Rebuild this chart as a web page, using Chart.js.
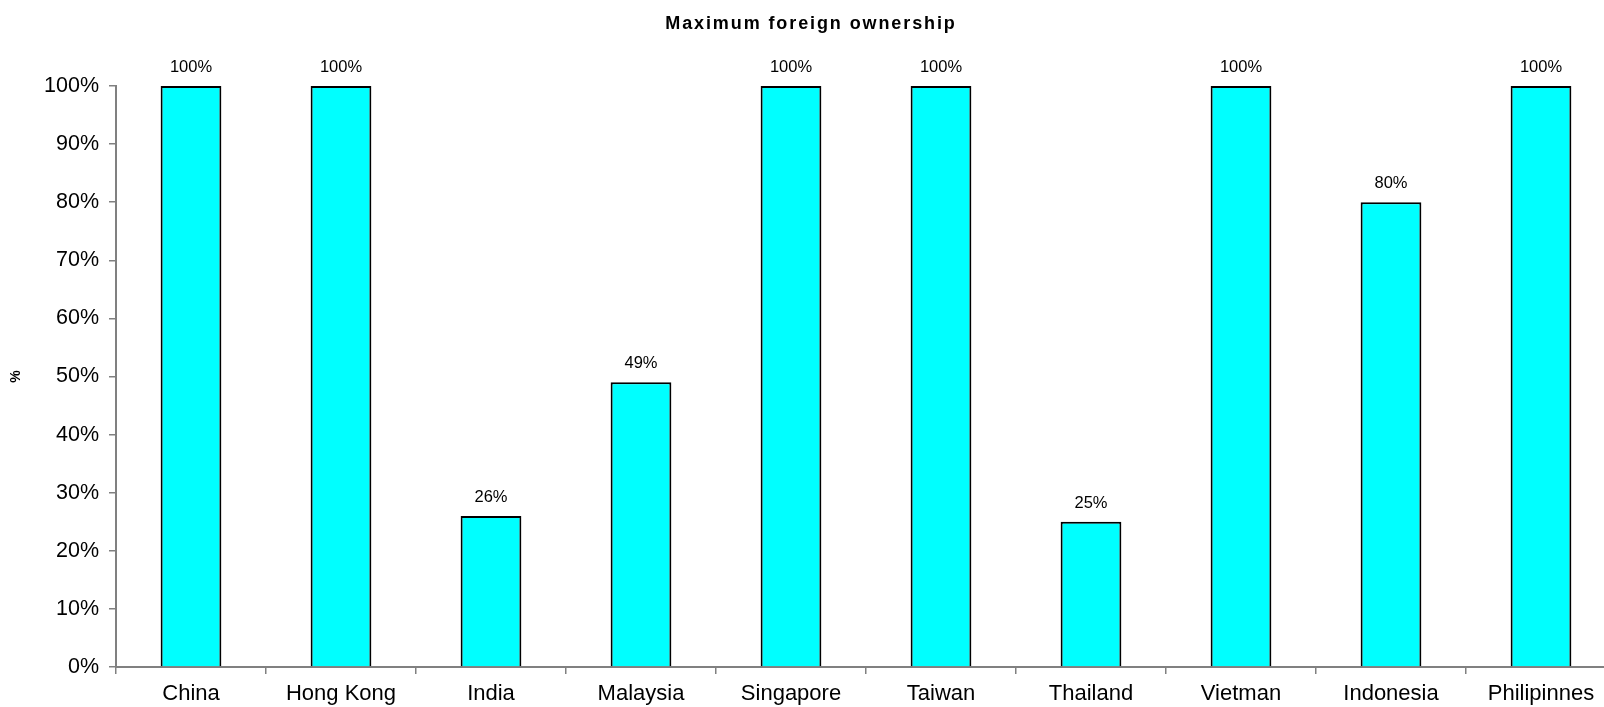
<!DOCTYPE html>
<html>
<head>
<meta charset="utf-8">
<title>Maximum foreign ownership</title>
<script src="https://cdn.jsdelivr.net/npm/chart.js@4.4.1/dist/chart.umd.min.js"></script>
<style>
    html, body {
        margin: 0;
        padding: 0;
        background: #fff;
        overflow: hidden;
    }
    .wrap {
        position: relative;
        width: 1604px;
        height: 707px;
        overflow: hidden;
    }
    .chart-title {
        position: absolute;
        top: 12px;
        left: 0;
        width: 1604px;
        padding-left: 18px;
        box-sizing: border-box;
        text-align: center;
        font: bold 18px "Liberation Sans", Arial, sans-serif;
        letter-spacing: 1.9px;
        color: #000;
        line-height: 22px;
    }
    canvas {
        position: absolute;
        left: 0;
        top: 0;
    }
</style>
</head>
<body>
<div class="wrap">
    <canvas id="ownership-chart" width="1640" height="707"></canvas>
    <div class="chart-title">Maximum foreign ownership</div>
</div>
<script>
    const countries = ['China', 'Hong Kong', 'India', 'Malaysia', 'Singapore', 'Taiwan', 'Thailand', 'Vietman', 'Indonesia', 'Philipinnes'];
    const maxOwnership = [100, 100, 26, 49, 100, 100, 25, 100, 80, 100];
    const yTicks = [0, 10, 20, 30, 40, 50, 60, 70, 80, 90, 100];

    const FONT = '"Liberation Sans", Arial, sans-serif';
    const AXIS_GREY = '#808080';

    // value labels above each bar
    const barLabels = {
        id: 'barLabels',
        afterDatasetsDraw(chart) {
            const ctx = chart.ctx;
            const meta = chart.getDatasetMeta(0);
            ctx.save();
            ctx.font = '16.5px ' + FONT;
            ctx.fillStyle = '#000';
            ctx.textAlign = 'center';
            ctx.textBaseline = 'alphabetic';
            meta.data.forEach((bar, i) => {
                ctx.fillText(maxOwnership[i] + '%', bar.x, bar.y - 14);
            });
            ctx.restore();
        }
    };

    new Chart(document.getElementById('ownership-chart'), {
        type: 'bar',
        data: {
            labels: countries,
            datasets: [{
                data: maxOwnership,
                backgroundColor: '#00FFFF',
                borderColor: '#000',
                borderWidth: 2,
                categoryPercentage: 1,
                barPercentage: 0.405
            }]
        },
        options: {
            responsive: false,
            animation: false,
            events: [],
            layout: {
                padding: { top: 86, right: 24, bottom: 0, left: 0 }
            },
            plugins: {
                legend: { display: false },
                tooltip: { enabled: false },
                title: { display: false }
            },
            scales: {
                x: {
                    offset: true,
                    grid: {
                        offset: true,
                        drawOnChartArea: false,
                        color: AXIS_GREY,
                        lineWidth: 1.5,
                        tickLength: 7
                    },
                    border: { color: AXIS_GREY, width: 2 },
                    ticks: {
                        color: '#000',
                        font: { family: FONT, size: 22 },
                        padding: 7,
                        maxRotation: 0,
                        autoSkip: false
                    },
                    afterFit(scale) { scale.height = 40; }
                },
                y: {
                    min: 0,
                    max: 100,
                    afterBuildTicks(scale) {
                        scale.ticks = yTicks.map(v => ({ value: v }));
                    },
                    grid: {
                        drawOnChartArea: false,
                        color: AXIS_GREY,
                        lineWidth: 1.5,
                        tickLength: 7
                    },
                    border: { color: AXIS_GREY, width: 2 },
                    ticks: {
                        color: '#000',
                        font: { family: FONT, size: 21.5 },
                        padding: 10,
                        callback: v => v + '%'
                    },
                    title: {
                        display: true,
                        text: '%',
                        color: '#000',
                        font: { family: FONT, size: 14, weight: 'bold' },
                        padding: { top: 8, bottom: 4 }
                    },
                    afterFit(scale) { scale.width = 116; }
                }
            }
        },
        plugins: [barLabels]
    });
</script>
</body>
</html>
